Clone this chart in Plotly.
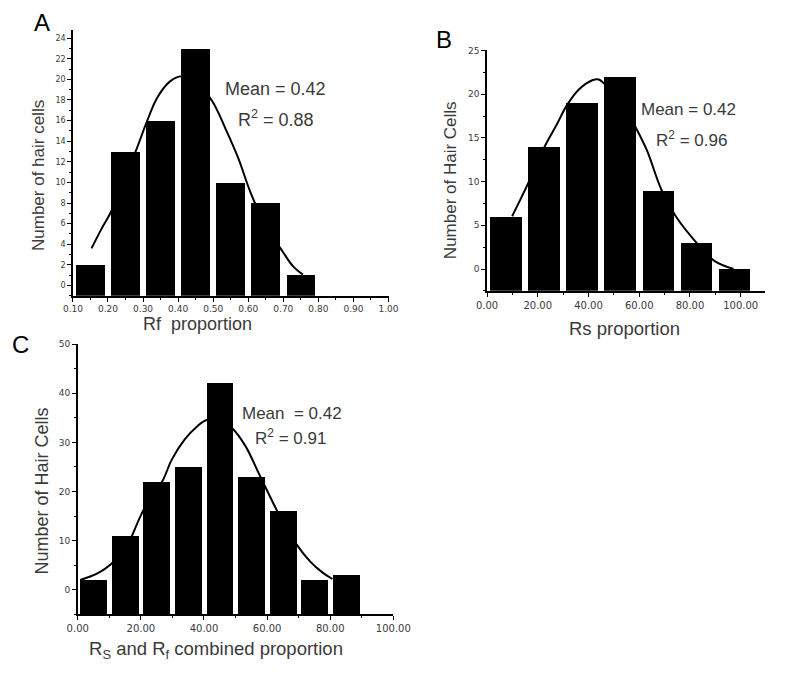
import plotly.graph_objects as go

# ---------------- data ----------------
# Panel A: Rf proportion histogram
A_bins = [0.15, 0.25, 0.35, 0.45, 0.55, 0.65, 0.75]
A_counts = [2, 13, 16, 23, 10, 8, 1]
A_fit_x = [0.153, 0.18, 0.211, 0.25, 0.28, 0.312, 0.34, 0.377, 0.41, 0.45,
           0.497, 0.534, 0.571, 0.608, 0.65, 0.698, 0.728, 0.756]
A_fit_y = [3.6, 5.4, 7.3, 10.5, 13.1, 16.0, 18.2, 19.8, 20.3, 19.8,
           17.9, 15.3, 12.4, 8.9, 5.8, 3.3, 1.86, 1.06]

# Panel B: Rs proportion histogram
B_bins = [7.5, 22.5, 37.5, 52.5, 67.5, 82.5, 97.5]
B_counts = [6, 14, 19, 22, 9, 3, 0]
B_fit_x = [9.9, 16.2, 22.5, 27.6, 31.4, 36.4, 41.5, 44.0, 45.9, 52.0,
           58.6, 63.0, 68.7, 74.4, 82.6, 89.6, 97.2]
B_fit_y = [6.04, 9.8, 13.9, 16.6, 18.7, 20.6, 21.6, 21.7, 21.3, 19.5,
           16.2, 13.6, 9.1, 6.04, 3.0, 0.94, 0.0]

# Panel C: combined histogram
C_bins = [5, 15, 25, 35, 45, 55, 65, 75, 85]
C_counts = [2, 11, 22, 25, 42, 23, 16, 2, 3]
C_fit_x = [0.8, 6.4, 10.5, 15.6, 19.6, 22.7, 26.8, 29.8, 33.9, 37.9, 41.0,
           45.0, 49.1, 53.2, 57.3, 60.3, 63.4, 69.5, 73.6, 77.6, 80.7]
C_fit_y = [2.0, 3.4, 5.2, 9.0, 14.6, 18.5, 22.1, 26.5, 30.6, 33.3, 34.6,
           34.5, 32.8, 29.2, 23.8, 19.8, 15.8, 9.1, 5.8, 3.5, 2.2]

A_ticks = [0.10, 0.20, 0.30, 0.40, 0.50, 0.60, 0.70, 0.80, 0.90, 1.00]
BC_ticks = [0, 20, 40, 60, 80, 100]

# ---------------- style ----------------
FONT = "Arial, Liberation Sans, sans-serif"
TICKFONT = "DejaVu Sans, sans-serif"
TXT = "#3a3a3a"

A_BASE, B_BASE, C_BASE = -1.0, -2.5, -5.0

OFF = 8  # default page body margin
W, H = 800 - 2 * OFF, 673 - 2 * OFF


def px(x):
    return (x - OFF) / W


def py(y):
    return 1 - (y - OFF) / H


fig = go.Figure()


def bars(x, counts, base, width, xa, ya):
    return go.Bar(x=x, y=[c - base for c in counts], base=base, width=width,
                  marker=dict(color="black", line=dict(width=0)),
                  xaxis=xa, yaxis=ya, showlegend=False)


def fit(x, y, xa, ya):
    return go.Scatter(x=x, y=y, mode="lines", line=dict(color="black", width=2, shape="spline"),
                      xaxis=xa, yaxis=ya, showlegend=False)


fig.add_trace(bars(A_bins, A_counts, A_BASE, 0.082, "x", "y"))
fig.add_trace(fit(A_fit_x, A_fit_y, "x", "y"))
fig.add_trace(bars(B_bins, B_counts, B_BASE, 12.4, "x2", "y2"))
fig.add_trace(fit(B_fit_x, B_fit_y, "x2", "y2"))
fig.add_trace(bars(C_bins, C_counts, C_BASE, 8.5, "x3", "y3"))
fig.add_trace(fit(C_fit_x, C_fit_y, "x3", "y3"))


def xax(domain, anchor, rng, tickvals, minor_dtick, tsize):
    return dict(domain=domain, anchor=anchor, range=rng, tickvals=tickvals,
                ticktext=[f"{v:.2f}" for v in tickvals],
                showline=True, linecolor="black", linewidth=1.5, mirror=False,
                ticks="outside", ticklen=4, tickwidth=1.2, tickcolor="black",
                minor=dict(ticks="outside", ticklen=2, tickwidth=1, tickcolor="black", dtick=minor_dtick,
                           tick0=0),
                showgrid=False, zeroline=False,
                tickfont=dict(family=TICKFONT, size=tsize, color=TXT))


def yax(domain, anchor, rng, dtick, minor_dtick, tsize):
    return dict(domain=domain, anchor=anchor, range=rng, tick0=0, dtick=dtick,
                showline=True, linecolor="black", linewidth=1.5,
                ticks="outside", ticklen=4, tickwidth=1.2, tickcolor="black",
                minor=dict(ticks="outside", ticklen=2, tickwidth=1, tickcolor="black", dtick=minor_dtick,
                           tick0=0),
                showgrid=False, zeroline=False,
                tickfont=dict(family=TICKFONT, size=tsize, color=TXT))


fig.update_layout(
    width=W, height=H,
    margin=dict(l=0, r=0, t=0, b=0),
    paper_bgcolor="white", plot_bgcolor="white",
    bargap=0,
    xaxis=xax([px(64), px(391.7)], "y", [0.10, 1.00], A_ticks, 0.05, 9),
    yaxis=yax([py(293), py(25)], "x", [A_BASE, 24.8], 2, 1, 8),
    xaxis2=xax([px(494), px(783)], "y2", [0, 109.7], BC_ticks, 10, 10),
    yaxis2=yax([py(288), py(45)], "x2", [B_BASE, 25.1], 5, 2.5, 9),
    xaxis3=xax([px(69), px(396.7)], "y3", [0, 100], BC_ticks, 10, 10),
    yaxis3=yax([py(614), py(341.7)], "x3", [C_BASE, 50], 10, 5, 9),
)

# axis titles (placed where the reference puts them)
titles = [
    dict(text="Rf  proportion", x=193, y=321, size=18, angle=0),
    dict(text="Number of hair cells", x=28, y=172, size=17, angle=-90),
    dict(text="Rs proportion", x=637, y=326, size=18.5, angle=0),
    dict(text="Number of Hair Cells", x=456, y=176, size=17, angle=-90),
    dict(text="R<sub>S</sub> and R<sub>f</sub> combined proportion", x=213, y=650, size=18.5, angle=0),
    dict(text="Number of Hair Cells", x=32, y=490, size=18, angle=-90),
]
for t in titles:
    fig.add_annotation(text=t["text"], x=px(t["x"]), y=py(t["y"]), xref="paper", yref="paper",
                       showarrow=False, xanchor="center", yanchor="middle", textangle=t["angle"],
                       font=dict(family=FONT, size=t["size"], color=TXT))

ann = [
    dict(text="Mean = 0.42", x=274, y=85, size=18),
    dict(text="R<sup>2</sup> = 0.88", x=275, y=114, size=18),
    dict(text="Mean = 0.42", x=703, y=105, size=17),
    dict(text="R<sup>2</sup> = 0.96", x=706, y=135, size=17),
    dict(text="Mean  = 0.42", x=292, y=412, size=17),
    dict(text="R<sup>2</sup> = 0.91", x=290, y=435, size=17),
]
for a in ann:
    fig.add_annotation(text=a["text"], x=px(a["x"]), y=py(a["y"]), xref="paper", yref="paper",
                       showarrow=False, xanchor="center", yanchor="middle",
                       font=dict(family=FONT, size=a["size"], color=TXT))

for lab, x, y in [("A", 32, 18), ("B", 449, 35), ("C", 10, 342)]:
    fig.add_annotation(text=lab, x=px(x), y=py(y), xref="paper", yref="paper",
                       showarrow=False, xanchor="center", yanchor="middle",
                       font=dict(family=FONT, size=24, color="black"))

fig.write_html("out.html")
